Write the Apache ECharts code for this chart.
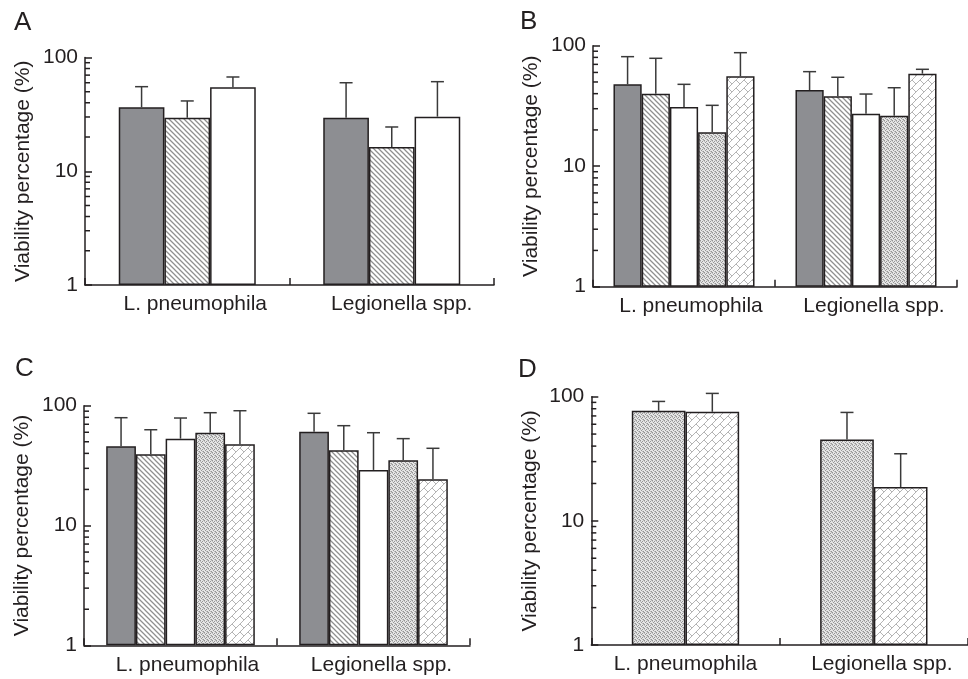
<!DOCTYPE html>
<html><head><meta charset="utf-8">
<script src="https://cdn.jsdelivr.net/npm/echarts@6/dist/echarts.min.js"></script>
<style>html,body{margin:0;padding:0;background:#fff}#c{width:968px;height:679px}</style>
</head><body><div id="c"></div>
<script>
// ---------- data ----------
const categories = ['L. pneumophila', 'Legionella spp.'];
const yTickValues = [1, 10, 100];
const minorTickValues = [2, 3, 4, 5, 6, 7, 8, 9, 20, 30, 40, 50, 60, 70, 80, 90];
const panelLetters = ['A', 'B', 'C', 'D'];
const yAxisTitle = 'Viability percentage (%)';

// Panel A: mean and mean+error (upper end of error bar)
const aSolidMean = [36.5, 29.6],  aSolidErr = [55.4, 60.0];
const aHatchMean = [29.6, 16.3],  aHatchErr = [41.5, 24.5];
const aWhiteMean = [54.7, 30.2],  aWhiteErr = [67.4, 61.3];

// Panel B
const bSolidMean = [47.8, 42.9],   bSolidErr = [81.1, 60.9];
const bHatchMean = [40.0, 38.0],   bHatchErr = [78.6, 54.7];
const bWhiteMean = [31.0, 27.3],   bWhiteErr = [47.8, 39.7];
const bStippleMean = [19.1, 26.2], bStippleErr = [32.0, 44.8];
const bBrickMean = [55.7, 58.6],   bBrickErr = [87.5, 63.7];

// Panel C
const cSolidMean = [45.8, 60.7],   cSolidErr = [79.4, 86.4];
const cHatchMean = [39.3, 42.4],   cHatchErr = [63.0, 68.1];
const cWhiteMean = [53.1, 29.1],   cWhiteErr = [78.9, 59.5];
const cStippleMean = [59.5, 35.0], cStippleErr = [87.4, 53.1];
const cBrickMean = [47.6, 24.3],   cBrickErr = [90.8, 44.1];

// Panel D
const dStippleMean = [77.0, 45.3], dStippleErr = [91.6, 74.7];
const dBrickMean = [75.6, 18.7],   dBrickErr = [106.3, 34.7];

// ---------- styles ----------
const INK = '#231f20';
const ERR = '#3a3a3a';
const FONT = '"Liberation Sans", Arial, Helvetica, sans-serif';

function makeTile(size, draw) {
  const c = document.createElement('canvas');
  c.width = size; c.height = size;
  const g = c.getContext('2d');
  draw(g, size);
  return { image: c, repeat: 'repeat' };
}
const fills = {
  solid: '#8d8e92',
  white: '#ffffff',
  hatch: makeTile(5, (g, s) => {
    g.fillStyle = '#fff'; g.fillRect(0, 0, s, s);
    g.strokeStyle = '#8f8f8f'; g.lineWidth = 1.25;
    g.beginPath();
    g.moveTo(-1, -1); g.lineTo(s + 1, s + 1);
    g.moveTo(s - 2, -2); g.lineTo(s + 2, 2);
    g.moveTo(-2, s - 2); g.lineTo(2, s + 2);
    g.stroke();
  }),
  stipple: makeTile(4, (g, s) => {
    g.fillStyle = '#e6e6e6'; g.fillRect(0, 0, s, s);
    g.fillStyle = '#959595';
    [[0, 0], [2, 1], [1, 2], [3, 3]].forEach(p => g.fillRect(p[0], p[1], 1, 1));
    g.fillStyle = '#bdbdbd';
    [[2, 3], [0, 1], [3, 0]].forEach(p => g.fillRect(p[0], p[1], 1, 1));
  }),
  brick: makeTile(8, (g, s) => {
    g.fillStyle = '#fff'; g.fillRect(0, 0, s, s);
    g.strokeStyle = '#b4b4b4'; g.lineWidth = 1;
    g.beginPath();
    g.moveTo(-1, s + 1); g.lineTo(s + 1, -1);
    g.moveTo(-1, 1); g.lineTo(1, -1);
    g.moveTo(s - 1, s + 1); g.lineTo(s + 1, s - 1);
    g.moveTo(0, 0); g.lineTo(s / 2, s / 2);
    g.stroke();
  })
};

const panels = [
  { gap: 0.33, bars: [
    { fill: 'solid', mean: aSolidMean, err: aSolidErr },
    { fill: 'hatch', mean: aHatchMean, err: aHatchErr },
    { fill: 'white', mean: aWhiteMean, err: aWhiteErr } ] },
  { gap: 0.225, bars: [
    { fill: 'solid', mean: bSolidMean, err: bSolidErr },
    { fill: 'hatch', mean: bHatchMean, err: bHatchErr },
    { fill: 'white', mean: bWhiteMean, err: bWhiteErr },
    { fill: 'stipple', mean: bStippleMean, err: bStippleErr },
    { fill: 'brick', mean: bBrickMean, err: bBrickErr } ] },
  { gap: 0.23, bars: [
    { fill: 'solid', mean: cSolidMean, err: cSolidErr },
    { fill: 'hatch', mean: cHatchMean, err: cHatchErr },
    { fill: 'white', mean: cWhiteMean, err: cWhiteErr },
    { fill: 'stipple', mean: cStippleMean, err: cStippleErr },
    { fill: 'brick', mean: cBrickMean, err: cBrickErr } ] },
  { gap: 0.43, bars: [
    { fill: 'stipple', mean: dStippleMean, err: dStippleErr },
    { fill: 'brick', mean: dBrickMean, err: dBrickErr } ] }
];

// ---------- layout ----------
const gridBoxes = [
  { left: 85, top: 57.5, width: 409, height: 227.5 },
  { left: 593, top: 45.7, width: 364, height: 241 },
  { left: 84, top: 405.7, width: 386, height: 239.6 },
  { left: 591.3, top: 396.7, width: 379, height: 248.3 }
];
const letterPos = [
  { left: 14, top: 10 }, { left: 520, top: 9 },
  { left: 15, top: 356 }, { left: 518, top: 357 }
];
// horizontal label shift (px, doubled into left padding) per panel per category
const labelShift = [[8, 10], [7, 8], [7, 8], [0, 8]];

function errRender(idx, n, gap) {
  return function (params, api) {
    const cat = api.value(0);
    const p0 = api.coord([cat, api.value(1)]);
    const p1 = api.coord([cat, api.value(2)]);
    const catW = params.coordSys.width / categories.length;
    const groupW = catW * (1 - gap);
    const bw = groupW / n;
    const x = p0[0] - groupW / 2 + bw * (idx + 0.5);
    const cap = 6.5;
    return { type: 'group', children: [
      { type: 'line', shape: { x1: x, y1: p0[1], x2: x, y2: p1[1] }, style: { stroke: ERR, lineWidth: 1.5 } },
      { type: 'line', shape: { x1: x - cap, y1: p1[1], x2: x + cap, y2: p1[1] }, style: { stroke: ERR, lineWidth: 1.5 } }
    ] };
  };
}
function minorRender(params, api) {
  const y = api.coord([0, api.value(1)])[1];
  const x0 = params.coordSys.x;
  return { type: 'line', shape: { x1: x0, y1: y, x2: x0 + 5, y2: y }, style: { stroke: INK, lineWidth: 1.5 } };
}

const grid = [], xAxis = [], yAxis = [], series = [], title = [];
panels.forEach((p, gi) => {
  grid.push(Object.assign({ containLabel: false }, gridBoxes[gi]));
  title.push({ text: panelLetters[gi], left: letterPos[gi].left, top: letterPos[gi].top, padding: 0,
    textStyle: { fontSize: 26, fontWeight: 'normal', color: INK, fontFamily: FONT } });
  xAxis.push({ type: 'category', gridIndex: gi,
    data: categories.map((c, ci) => ({ value: c, textStyle: { padding: [0, 0, 0, labelShift[gi][ci] * 2] } })),
    axisLine: { show: true, lineStyle: { color: INK, width: 1.5 } },
    axisTick: { show: true, inside: true, length: 7, lineStyle: { color: INK, width: 1.5 } },
    axisLabel: { show: true, interval: 0, hideOverlap: false, fontSize: 21, color: INK, fontFamily: FONT, margin: 9 },
    splitLine: { show: false } });
  yAxis.push({ type: 'log', logBase: 10, gridIndex: gi, min: yTickValues[0], max: yTickValues[yTickValues.length - 1],
    name: yAxisTitle, nameLocation: 'middle', nameGap: 51,
    nameTextStyle: { fontSize: 21, color: INK, fontFamily: FONT },
    axisLine: { show: true, lineStyle: { color: INK, width: 1.5 } },
    axisTick: { show: true, inside: true, length: 7, lineStyle: { color: INK, width: 1.5 } },
    minorTick: { show: false },
    axisLabel: { show: true, fontSize: 21, color: INK, fontFamily: FONT, margin: 7 },
    splitLine: { show: false } });
  const n = p.bars.length;
  p.bars.forEach((b, bi) => {
    series.push({ type: 'bar', xAxisIndex: gi, yAxisIndex: gi, data: b.mean,
      barGap: '0%', barCategoryGap: (p.gap * 100) + '%',
      itemStyle: { color: fills[b.fill], borderColor: INK, borderWidth: 1.5 }, z: 2 });
    series.push({ type: 'custom', xAxisIndex: gi, yAxisIndex: gi, z: 3, clip: false,
      data: b.mean.map((m, ci) => [ci, m, b.err[ci]]),
      encode: { x: 0, y: [1, 2] },
      renderItem: errRender(bi, n, p.gap) });
  });
  series.push({ type: 'custom', xAxisIndex: gi, yAxisIndex: gi, z: 10, clip: false,
    data: minorTickValues.map(v => [0, v]), encode: { x: 0, y: 1 }, renderItem: minorRender });
});

const chart = echarts.init(document.getElementById('c'), null, { renderer: 'canvas' });
chart.setOption({ animation: false, backgroundColor: '#ffffff', title, grid, xAxis, yAxis, series, tooltip: { show: false } });
</script></body></html>
